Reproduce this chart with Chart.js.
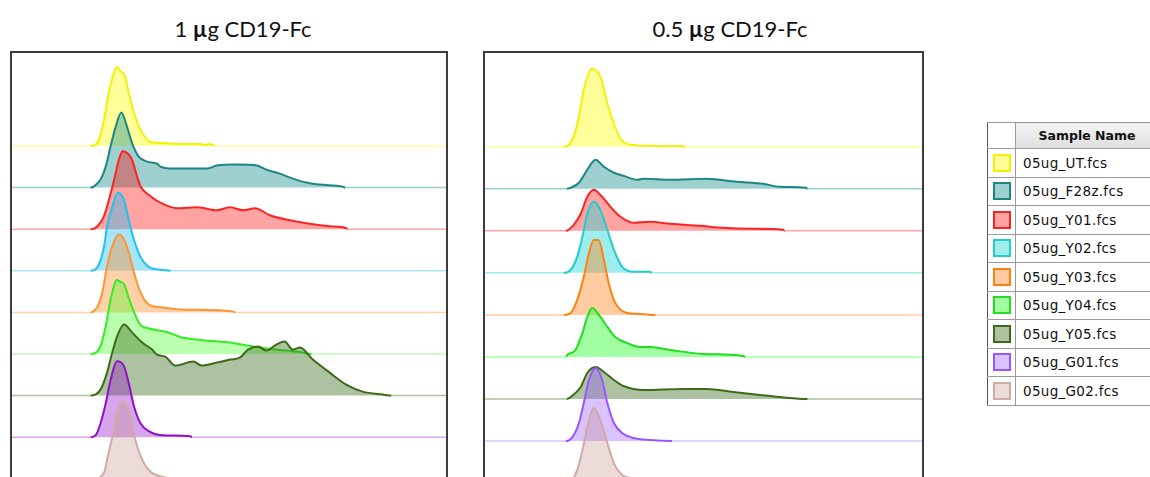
<!DOCTYPE html>
<html>
<head>
<meta charset="utf-8">
<script src="https://cdn.jsdelivr.net/npm/chart.js@4/dist/chart.umd.min.js"></script>
<style>
  html, body { margin: 0; padding: 0; background: #fff; }
  body { width: 1150px; height: 477px; overflow: hidden; position: relative; font-family: Lato, "Open Sans", sans-serif; }
  .title { position: absolute; top: 15px; width: 260px; text-align: center; font-size: 22px; line-height: 28px; color: #111; font-weight: 400; }
  .title b { font-weight: 700; }
  .box { position: absolute; top: 51px; height: 440px; border: 2px solid #3c3c3c; }
  .box canvas { display: block; }
  table.legend { position: absolute; left: 987px; top: 122px; width: 171px; table-layout: fixed; border-collapse: collapse;
    font-family: "DejaVu Sans", sans-serif; font-size: 13.5px; color: #111; white-space: nowrap; }
  table.legend td, table.legend th { border: 1px solid #9a9a9a; padding: 0; }
  table.legend th { height: 25px; font-weight: bold; font-size: 12.5px; background: linear-gradient(#f4f4f4, #dedede); text-align: center; }
  table.legend th.blank { background: #fff; }
  table.legend td { height: 27.5px; }
  table.legend td.sw { text-align: center; }
  table.legend td.nm { padding-left: 7px; letter-spacing: 0.3px; }
  .swatch { display: inline-block; width: 14px; height: 14px; border: 2px solid; vertical-align: middle; }
  table.legend tr > :first-child { border-left: 1px solid #555; }
</style>
</head>
<body>
<div class="title" style="left:113px">1 <b>µ</b>g CD19-Fc</div>
<div class="title" style="left:600px">0.5 <b>µ</b>g CD19-Fc</div>
<div class="box" style="left:10px; width:434px"><canvas id="c1" width="434" height="440"></canvas></div>
<div class="box" style="left:483px; width:437px"><canvas id="c2" width="437" height="440"></canvas></div>
<table class="legend" id="legend"><colgroup><col style="width:28px"><col style="width:143px"></colgroup></table>
<script>
// sample names (lanes top to bottom)
const sampleNames = ['05ug_UT.fcs', '05ug_F28z.fcs', '05ug_Y01.fcs', '05ug_Y02.fcs', '05ug_Y03.fcs',
  '05ug_Y04.fcs', '05ug_Y05.fcs', '05ug_G01.fcs', '05ug_G02.fcs'];

// histograms as [channel (0-1000), count] -- 1 ug panel
const oneUT   = [[181,0],[200,6],[212,26],[223,53],[235,73],[242,79],[250,75],[261,69],[269,53],[284,29],[300,13],[319,4],[346,3],[388,2],[434,2],[445,1],[456,2],[468,0]];
const oneF28z = [[181,0],[188,1],[204,8],[216,21],[227,41],[239,61],[252,75],[265,61],[277,44],[292,31],[311,26],[334,24],[342,21],[372,19],[411,19],[449,19],[472,22],[518,23],[564,22],[586,18],[617,14],[647,9],[678,5],[709,3],[762,1],[768,0]];
const oneY01  = [[181,0],[197,3],[212,13],[223,29],[235,49],[246,69],[255,78],[266,76],[277,69],[288,53],[296,43],[319,33],[349,25],[380,21],[426,22],[472,19],[502,22],[533,19],[560,21],[594,14],[640,9],[678,6],[732,3],[770,1],[773,0]];
const oneY02  = [[181,0],[200,6],[212,24],[219,44],[231,64],[244,78],[258,71],[269,51],[281,31],[296,14],[315,4],[346,1],[365,0]];
const oneY03  = [[181,0],[197,6],[208,20],[219,46],[231,66],[246,78],[258,73],[269,60],[281,40],[296,20],[315,8],[346,5],[388,3],[509,1],[514,0]];
const oneY04  = [[181,0],[204,8],[216,28],[227,54],[242,74],[250,72],[258,70],[269,56],[281,42],[296,29],[311,26],[357,22],[388,17],[434,14],[509,11],[548,8],[579,6],[617,4],[663,2],[690,0]];
const oneY05  = [[181,0],[204,6],[219,23],[231,43],[242,59],[258,71],[277,63],[300,53],[323,46],[334,41],[353,39],[376,30],[418,34],[437,30],[472,33],[502,36],[525,38],[544,46],[567,49],[586,45],[609,51],[628,54],[647,46],[663,48],[693,36],[732,23],[770,11],[808,4],[854,1],[874,0]];
const oneG01  = [[181,0],[193,2],[204,14],[216,34],[227,57],[242,76],[258,71],[269,54],[281,31],[296,14],[315,6],[346,2],[411,1],[415,0]];
const oneG02  = [[188,0],[212,6],[219,19],[231,42],[242,66],[258,77],[273,62],[284,39],[300,19],[319,7],[346,2],[376,0]];

// 0.5 ug panel
const halfUT   = [[180,0],[192,2],[203,10],[215,30],[226,57],[245,78],[264,70],[280,43],[295,23],[310,8],[333,2],[378,1],[424,0.5],[446,1],[458,0]];
const halfF28z = [[187,0],[196,1],[215,6],[234,19],[253,29],[272,22],[295,16],[317,13],[348,9],[363,10],[424,9],[507,10],[576,7],[636,5],[674,2],[735,1],[738,0]];
const halfY01  = [[185,0],[203,6],[219,17],[234,34],[249,41],[268,34],[287,24],[310,14],[340,8],[378,9],[424,7],[492,5],[545,3],[606,2],[682,1],[686,0]];
const halfY02  = [[180,0],[196,3],[211,16],[223,36],[234,59],[249,71],[264,63],[280,43],[295,23],[314,6],[340,1],[378,1],[382,0]];
const halfY03  = [[180,0],[196,2],[211,15],[226,38],[238,62],[249,75],[260,75],[272,55],[283,32],[298,12],[325,2],[355,1],[390,0]];
const halfY04  = [[185,0],[188,2],[207,7],[223,24],[234,40],[245,49],[264,40],[280,30],[298,20],[325,14],[355,10],[378,10],[424,7],[500,3],[590,1],[595,0]];
const halfY05  = [[187,0],[196,2],[219,12],[234,26],[253,32],[272,27],[295,19],[317,13],[363,9],[454,10],[507,10],[568,7],[629,4],[674,2],[738,0]];
const halfG01  = [[185,0],[200,4],[215,18],[226,38],[238,61],[253,73],[268,61],[280,38],[295,18],[314,8],[340,3],[378,1],[428,0]];
const halfG02  = [[190,0],[211,13],[223,33],[234,56],[249,75],[264,63],[280,40],[295,20],[314,8],[333,5],[367,0]];

const leftStroke  = ['#f2f200', '#1e8585', '#ff2222', '#1ec3f0', '#ff9433', '#33ee22', '#3d6b18', '#9010c8', '#d2aaa4'];
const leftFill    = ['rgba(255,255,0,0.4)', 'rgba(40,150,150,0.45)', 'rgba(255,0,0,0.36)', 'rgba(30,190,240,0.4)',
  'rgba(255,140,40,0.4)', 'rgba(60,255,30,0.35)', 'rgba(60,110,30,0.42)', 'rgba(150,20,200,0.38)', 'rgba(190,140,130,0.3)'];
const rightStroke = ['#f2f200', '#1e8585', '#ff2222', '#22cccc', '#ff8210', '#22dd22', '#3d6b18', '#9955ff', '#d2aaa4'];
const rightFill   = ['rgba(255,255,0,0.4)', 'rgba(40,150,150,0.45)', 'rgba(255,0,0,0.36)', 'rgba(40,215,215,0.45)',
  'rgba(255,130,30,0.42)', 'rgba(30,255,30,0.42)', 'rgba(60,110,30,0.42)', 'rgba(150,80,255,0.35)', 'rgba(190,140,130,0.3)'];

function buildDatasets(curves, lane, strokes, fills) {
  const n = curves.length;
  return curves.map((pts, i) => {
    const base = (n - 1 - i) * lane;
    const full = [[0, 0], ...pts, [1000, 0]];
    const flat = c => c.p0.parsed.y === base && c.p1.parsed.y === base;
    return {
      label: sampleNames[i],
      data: full.map(([x, h]) => ({ x, y: base + h })),
      borderColor: strokes[i],
      backgroundColor: fills[i],
      borderWidth: 2,
      fill: { value: base },
      order: n - i, // lower lanes drawn on top
      segment: {
        borderColor: c => flat(c) ? fills[i] : undefined,
        borderWidth: c => flat(c) ? 1.5 : undefined
      }
    };
  });
}

function ridgeChart(id, curves, lane, yMax, yMin, strokes, fills) {
  return new Chart(document.getElementById(id), {
    type: 'line',
    data: { datasets: buildDatasets(curves, lane, strokes, fills) },
    options: {
      responsive: false,
      animation: false,
      events: [],
      layout: { padding: 0 },
      plugins: { legend: { display: false }, tooltip: { enabled: false } },
      elements: { point: { radius: 0 }, line: { cubicInterpolationMode: 'monotone' } },
      scales: {
        x: { type: 'linear', min: 0, max: 1000, display: false },
        y: { min: yMin, max: yMax, display: false }
      }
    }
  });
}

ridgeChart('c1', [oneUT, oneF28z, oneY01, oneY02, oneY03, oneY04, oneY05, oneG01, oneG02],
  41.6, 425.8, -14.2, leftStroke, leftFill);
ridgeChart('c2', [halfUT, halfF28z, halfY01, halfY02, halfY03, halfY04, halfY05, halfG01, halfG02],
  42.05, 430.1, -9.9, rightStroke, rightFill);

// sample table
const legend = document.getElementById('legend');
legend.insertAdjacentHTML('beforeend', '<tr><th class="blank"></th><th>Sample Name</th></tr>' +
  sampleNames.map((name, i) =>
    `<tr><td class="sw"><span class="swatch" style="border-color:${rightStroke[i]};background:${rightFill[i]}"></span></td><td class="nm">${name}</td></tr>`
  ).join(''));
</script>
</body>
</html>
